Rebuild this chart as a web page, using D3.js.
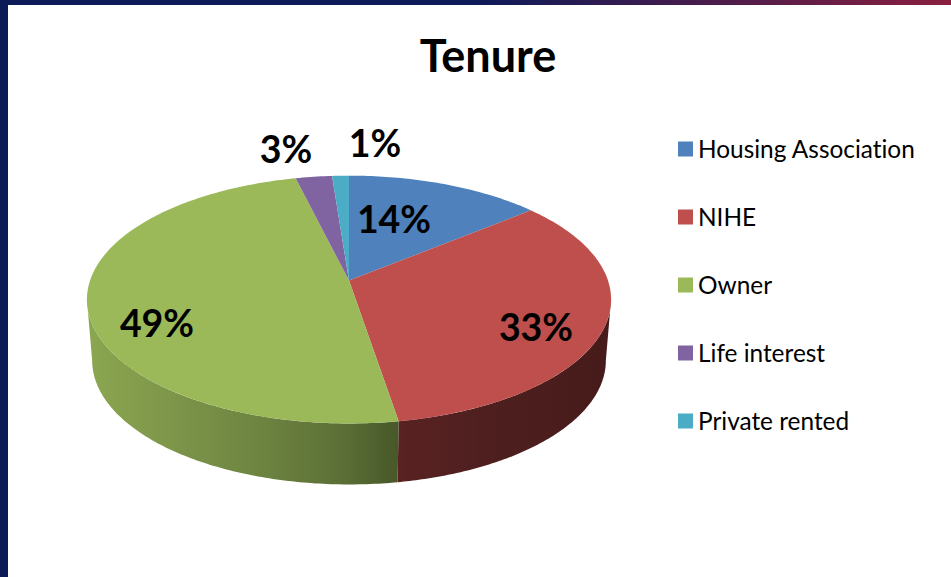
<!DOCTYPE html>
<html><head><meta charset="utf-8">
<script src="https://cdn.jsdelivr.net/npm/d3@7"></script>
<style>html,body{margin:0;padding:0;background:#fff}svg{display:block}text{font-family:Lato,"Open Sans",sans-serif;fill:#000;font-variant-ligatures:none}</style>
</head><body><svg id="c" width="951" height="577"></svg>
<script>
const title = "Tenure";
const categories = ["Housing Association","NIHE","Owner","Life interest","Private rented"];
const values = [14, 33.4, 48.8, 2.6, 1.2];
const colors = ["#4f81bd","#be4f4c","#9bb958","#8064a2","#4bacc6"];

const W = 951, H = 577;
const svg = d3.select("#c");
const defs = svg.append("defs");

// slide frame
const topGrad = defs.append("linearGradient").attr("id","frame");
[[0,"#0c1a58"],[0.5,"#0c1a58"],[1,"#8a1f3f"]].forEach(s=>topGrad.append("stop").attr("offset",s[0]).attr("stop-color",s[1]));
svg.append("rect").attr("width",W).attr("height",5).attr("fill","url(#frame)");
svg.append("rect").attr("width",8).attr("height",H).attr("fill","#0c1a58");

// projection of the tilted disc
const cx = 349, apexY = 280.6, Rx = 259, Ry = 121, k = 0.153;
const depth = 61, shrink = 0.98;
const project = (a, r, z) => {
  const u = Math.sin(a)*r, v = -Math.cos(a)*r, s = 1/(1-k*v);
  return [cx + Rx*u*s*(z ? shrink : 1), apexY + Ry*v*s + (z ? depth : 0)];
};
const line = d3.line();
const arcs = d3.pie().sort(null)(values);

// side wall gradients
const sideStops = [
  [[90,"#8ba650"],[250,"#6f8642"],[340,"#5c7036"],[398,"#48582a"]],
  [[398,"#5a2222"],[480,"#4f1f1f"],[611,"#471b1b"]]
];
const xScale = d3.scaleLinear().domain([87,611]).range([0,1]);
sideStops.forEach((st,i)=>{
  const g = defs.append("linearGradient").attr("id","side"+i).attr("gradientUnits","userSpaceOnUse")
    .attr("x1",87).attr("x2",611).attr("y1",0).attr("y2",0);
  st.forEach(s=>g.append("stop").attr("offset",xScale(s[0])).attr("stop-color",s[1]));
});

// visible walls: the rim between the two silhouette tangents
const tangent = Math.asin(k);
const rimStart = Math.PI/2 + tangent, rimEnd = 3*Math.PI/2 - tangent;
[[arcs[1],"url(#side1)"],[arcs[2],"url(#side0)"]].forEach(([d,fill])=>{
  const a0 = Math.max(d.startAngle, rimStart), a1 = Math.min(d.endAngle, rimEnd);
  const as = d3.range(0,121).map(i=>a0+(a1-a0)*i/120);
  const pts = as.map(a=>project(a,1,false)).concat(as.slice().reverse().map(a=>project(a,1,true)));
  svg.append("path").attr("d",line(pts)+"Z").attr("fill",fill);
});

// top face
arcs.forEach((d,i)=>{
  const n = Math.max(8,Math.ceil((d.endAngle-d.startAngle)*60));
  const pts = [project(0,0,false)].concat(d3.range(n+1).map(j=>project(d.startAngle+(d.endAngle-d.startAngle)*j/n,1,false)));
  svg.append("path").attr("d",line(pts)+"Z").attr("fill",colors[i]);
});

// title
svg.append("text").attr("x",488).attr("y",72).attr("text-anchor","middle")
  .attr("font-size",45).attr("font-weight",700).text(title);

// data labels
const pct = d3.format(".0f");
const labelPos = [[394,233],[536,341],[157,337],[286,163],[375,157]];
values.forEach((v,i)=>{
  svg.append("text").attr("x",labelPos[i][0]).attr("y",labelPos[i][1]).attr("text-anchor","middle")
    .attr("font-size",37.5).attr("font-weight",700).text(pct(v)+"%");
});

// legend
const ly = d3.scalePoint().domain(categories).range([149,421]);
categories.forEach((c,i)=>{
  svg.append("rect").attr("x",678).attr("y",ly(c)-7.5).attr("width",15).attr("height",15).attr("fill",colors[i]);
  svg.append("text").attr("x",698).attr("y",ly(c)+9).attr("font-size",24.4).text(c);
});
</script></body></html>
